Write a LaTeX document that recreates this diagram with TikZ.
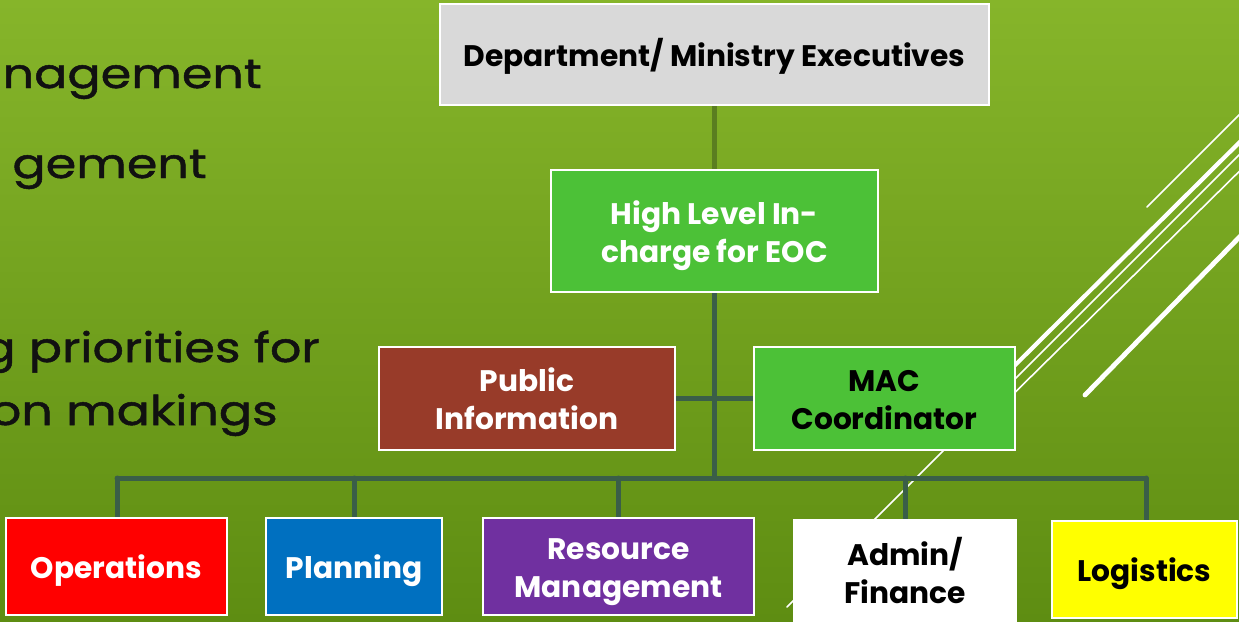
\documentclass[tikz,border=0pt]{standalone}
\usepackage{fontspec}
\setmainfont{Poppins}
\newfontfamily\bodyfont{Poppins}[FakeStretch=1.2,FakeBold=1.2]
\pgfdeclarelayer{back}
\pgfdeclarelayer{bg}
\pgfsetlayers{back,bg,main}
\definecolor{bgtop}{HTML}{86B52A}
\definecolor{bgbot}{HTML}{5E8D12}
\definecolor{conn}{HTML}{3A5E48}
\definecolor{conntop}{HTML}{5A7E20}
\definecolor{greybox}{HTML}{D9D9D9}
\definecolor{greenbox}{HTML}{4CC137}
\definecolor{brownbox}{HTML}{983B29}
\definecolor{redbox}{HTML}{FF0000}
\definecolor{bluebox}{HTML}{0070C0}
\definecolor{purplebox}{HTML}{7030A0}
\definecolor{yellowbox}{HTML}{FFFF00}
\definecolor{darktext}{HTML}{111111}
\newcommand{\firstl}[1]{\rule{0pt}{24pt}\smash{#1}}
\newcommand{\lastl}[1]{\smash{#1}}
\begin{document}
\begin{tikzpicture}[x=1pt,y=-1pt,
  box/.style={draw=white, line width=2pt, rectangle, inner sep=0pt, align=center,
    font=\bfseries\fontsize{29.7}{38}\selectfont},
  conline/.style={draw=conn, line width=5pt, line cap=round},
  deco/.style={draw=white, line cap=round},
  bodytext/.style={font=\bodyfont\fontsize{41}{46}\selectfont, text=darktext, inner sep=0pt, anchor=base east}]
\useasboundingbox (0,0) rectangle (1239,621);
\begin{pgfonlayer}{back}
  \clip (0,0) rectangle (1239,621);
  \shade[top color=bgtop, bottom color=bgbot] (0,0) rectangle (1239,621);
  \draw[deco, line width=1.6pt] (1147,207) -- (1262,92);
  \draw[deco, line width=4.2pt] (990,390) -- (1262,120);
  \draw[deco, line width=1.6pt] (787,607) -- (1262,132);
  \draw[deco, line width=1.6pt] (990,417) -- (1262,149);
  \draw[deco, line width=4.8pt] (1085,395) -- (1262,214);
\end{pgfonlayer}
\clip (0,0) rectangle (1239,621);
% left body text
\node[bodytext] (t1) at (262,88) {nagement};
\node[bodytext] (t2) at (207,178) {gement};
\node[bodytext] (t3) at (320,362) {g priorities for};
\node[bodytext] (t4) at (278,425) {on makings};
% boxes
\node[box, fill=greybox, text=black, minimum width=549pt, minimum height=101pt] (dept) at (714.5,54.5) {\firstl{Department/ Ministry Executives}};
\node[box, fill=greenbox, text=white, minimum width=327pt, minimum height=122pt] (high) at (714.5,231) {\firstl{High Level In-}\\\lastl{charge for EOC}};
\node[box, fill=brownbox, text=white, minimum width=296pt, minimum height=103pt] (pub) at (527,398.5) {\firstl{Public}\\\lastl{Information}};
\node[box, fill=greenbox, text=black, minimum width=261pt, minimum height=103pt] (mac) at (884.5,398.5) {\firstl{MAC}\\\lastl{Coordinator}};
\node[box, fill=redbox, text=white, minimum width=221pt, minimum height=97pt] (ops) at (116.5,566.5) {\firstl{Operations}};
\node[box, fill=bluebox, text=white, minimum width=176pt, minimum height=97pt] (plan) at (354,566.5) {\firstl{Planning}};
\node[box, fill=purplebox, text=white, minimum width=271pt, minimum height=97pt] (res) at (618.5,566.5) {\firstl{Resource}\\\lastl{Management}};
\node[box, fill=white, text=black, minimum width=222pt, minimum height=104pt] (adm) at (905,572) {\firstl{Admin/}\\\lastl{Finance}};
\node[box, fill=yellowbox, text=black, minimum width=185pt, minimum height=97pt] (log) at (1144.5,569.5) {\firstl{Logistics}};
\coordinate (busL) at (117,478);
\coordinate (busR) at (1146,478);
\begin{pgfonlayer}{bg}
  \draw[conline, draw=conntop] (dept.south) -- (high.north);
  \draw[conline] (high.south) -- (high.south |- busL);
  \draw[conline] (pub.east) -- (mac.west);
  \draw[conline] (busL) -- (busR);
  \draw[conline] (ops.north -| busL) -- (busL);
  \draw[conline] (plan.north) -- (plan.north |- busL);
  \draw[conline] (res.north) -- (res.north |- busL);
  \draw[conline] (adm.north) -- (adm.north |- busL);
  \draw[conline] (log.north -| busR) -- (busR);
\end{pgfonlayer}
\end{tikzpicture}
\end{document}
